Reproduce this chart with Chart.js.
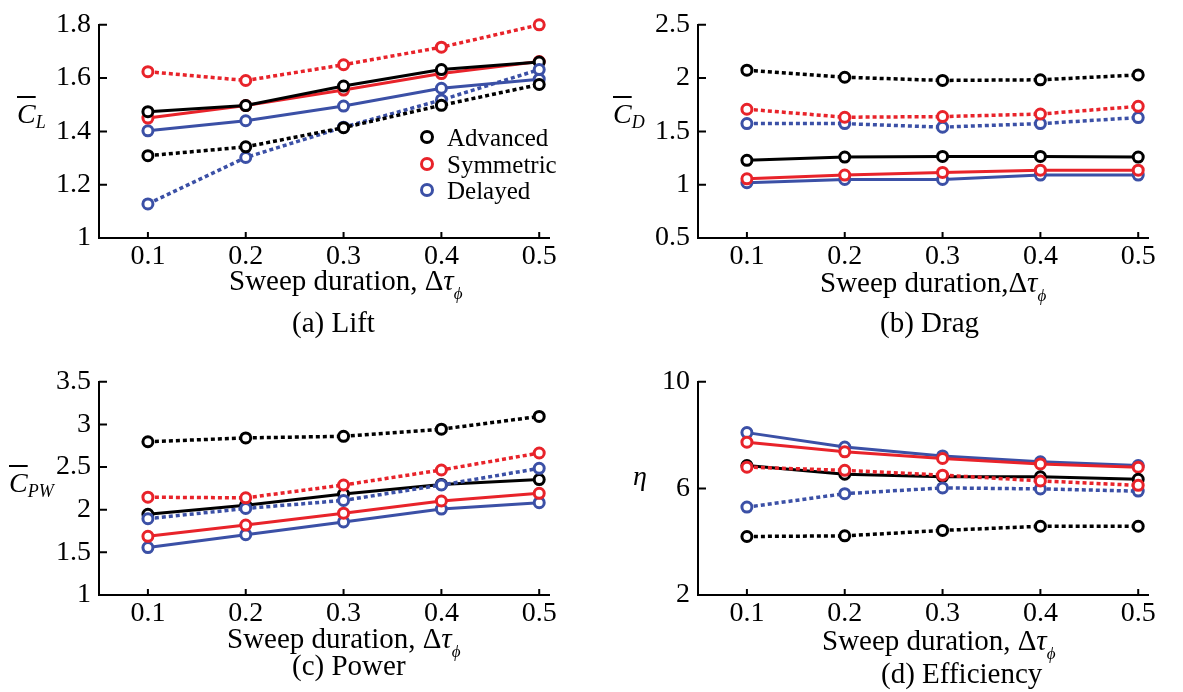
<!DOCTYPE html>
<html>
<head>
<meta charset="utf-8">
<script src="https://cdn.jsdelivr.net/npm/chart.js@4.4.1/dist/chart.umd.min.js"></script>
<style>
  body { margin: 0; background: #fff; width: 1183px; height: 692px; position: relative; overflow: hidden;
         font-family: 'Liberation Serif', 'Times New Roman', serif; color: #000; }
  canvas { position: absolute; }
  .txt { position: absolute; font-size: 29px; line-height: 29px; white-space: nowrap; }
  .ylab { position: absolute; font-size: 28px; line-height: 28px; white-space: nowrap; }
  .ylab i.bar { text-decoration: overline; text-decoration-thickness: 1.5px; }
  .ylab sub { font-size: 18px; vertical-align: -5px; }
  .txt sub { font-size: 17px; vertical-align: -9px; }
  .legend { position: absolute; left: 420px; top: 125px; font-size: 25px; line-height: 26.5px; }
  .legend div { white-space: nowrap; }
  .legend span { display: inline-block; width: 8px; height: 8px; border-radius: 50%; border-width: 3px;
                 border-style: solid; margin-right: 13px; vertical-align: 2px; }
</style>
</head>
<body>
<canvas id="lift" width="584" height="290" style="left:0;top:0"></canvas>
<canvas id="drag" width="584" height="290" style="left:599px;top:0"></canvas>
<canvas id="power" width="584" height="290" style="left:0;top:357px"></canvas>
<canvas id="eff" width="584" height="290" style="left:599px;top:357px"></canvas>

<div class="ylab" style="left:17px;top:100px"><i class="bar">C</i><sub><i>L</i></sub></div>
<div class="ylab" style="left:613px;top:100px"><i class="bar">C</i><sub><i>D</i></sub></div>
<div class="ylab" style="left:9px;top:469px"><i class="bar">C</i><sub><i>PW</i></sub></div>
<div class="ylab" style="left:633px;top:462px"><i>η</i></div>

<div class="txt" style="left:229px;top:266px">Sweep duration, Δ<i>τ</i><sub><i>ϕ</i></sub></div>
<div class="txt" style="left:820px;top:268px">Sweep duration,Δ<i>τ</i><sub><i>ϕ</i></sub></div>
<div class="txt" style="left:227px;top:624px">Sweep duration, Δ<i>τ</i><sub><i>ϕ</i></sub></div>
<div class="txt" style="left:822px;top:626px">Sweep duration, Δ<i>τ</i><sub><i>ϕ</i></sub></div>

<div class="txt" style="left:292px;top:308px">(a) Lift</div>
<div class="txt" style="left:880px;top:308px">(b) Drag</div>
<div class="txt" style="left:292px;top:651px">(c) Power</div>
<div class="txt" style="left:881px;top:659px">(d) Efficiency</div>

<div class="legend" id="legend"></div>

<script>
// sweep durations (x axis)
const sweep = [0.1, 0.2, 0.3, 0.4, 0.5];
const seriesNames = ['Advanced', 'Symmetric', 'Delayed'];
const seriesColors = ['#000000', '#e8232a', '#3b50a6'];

// (a) lift coefficient
const liftAdvanced = [1.474, 1.497, 1.570, 1.632, 1.660];
const liftSymmetric = [1.450, 1.497, 1.555, 1.617, 1.662];
const liftDelayed = [1.402, 1.440, 1.495, 1.562, 1.596];
const liftAdvancedDot = [1.309, 1.342, 1.414, 1.498, 1.576];
const liftSymmetricDot = [1.624, 1.591, 1.650, 1.716, 1.800];
const liftDelayedDot = [1.128, 1.302, 1.416, 1.518, 1.632];

// (b) drag coefficient
const dragAdvanced = [1.229, 1.259, 1.265, 1.265, 1.259];
const dragSymmetric = [1.055, 1.090, 1.115, 1.136, 1.136];
const dragDelayed = [1.019, 1.049, 1.049, 1.090, 1.090];
const dragAdvancedDot = [2.074, 2.008, 1.978, 1.984, 2.030];
const dragSymmetricDot = [1.708, 1.633, 1.639, 1.663, 1.735];
const dragDelayedDot = [1.573, 1.573, 1.540, 1.573, 1.630];

// (c) power coefficient
const powerAdvanced = [1.947, 2.053, 2.184, 2.297, 2.353];
const powerSymmetric = [1.688, 1.820, 1.959, 2.102, 2.192];
const powerDelayed = [1.556, 1.707, 1.857, 2.008, 2.083];
const powerAdvancedDot = [2.797, 2.842, 2.861, 2.944, 3.094];
const powerSymmetricDot = [2.147, 2.139, 2.290, 2.466, 2.665];
const powerDelayedDot = [1.895, 2.015, 2.109, 2.290, 2.485];

// (d) efficiency
const effAdvanced = [6.858, 6.534, 6.438, 6.438, 6.342];
const effSymmetric = [7.733, 7.373, 7.121, 6.918, 6.798];
const effDelayed = [8.093, 7.553, 7.217, 7.001, 6.858];
const effAdvancedDot = [4.195, 4.219, 4.423, 4.579, 4.579];
const effSymmetricDot = [6.798, 6.678, 6.498, 6.282, 6.114];
const effDelayedDot = [5.298, 5.802, 6.018, 5.982, 5.898];

const FONT = "'Liberation Serif', 'Times New Roman', serif";

// inward tick marks on both axes
const innerTicks = {
  id: 'innerTicks',
  beforeDatasetsDraw(chart) {
    const { ctx, chartArea, scales: { x, y } } = chart;
    ctx.save();
    ctx.strokeStyle = '#000';
    ctx.lineWidth = 2;
    ctx.beginPath();
    x.ticks.forEach(t => {
      const px = x.getPixelForValue(t.value);
      ctx.moveTo(px, chartArea.bottom);
      ctx.lineTo(px, chartArea.bottom - 6);
    });
    y.ticks.forEach(t => {
      const py = y.getPixelForValue(t.value);
      ctx.moveTo(chartArea.left, py);
      ctx.lineTo(chartArea.left + 8, py);
    });
    ctx.stroke();
    ctx.restore();
  }
};

function series(values, idx, dotted) {
  const c = seriesColors[idx];
  return {
    label: seriesNames[idx] + (dotted ? ' (dotted)' : ''),
    data: sweep.map((x, i) => ({ x, y: values[i] })),
    borderColor: c,
    borderWidth: dotted ? 3.5 : 3,
    borderDash: dotted ? [4, 3] : [],
    pointStyle: 'circle',
    pointRadius: 5,
    pointBorderWidth: 3,
    pointBorderColor: c,
    pointBackgroundColor: '#fff',
    clip: false,
  };
}

function makePanel(id, yMin, yMax, yStep, lines) {
  const canvas = document.getElementById(id);
  const H = canvas.height, W = canvas.width;
  return new Chart(canvas, {
    type: 'line',
    data: {
      datasets: [
        series(lines[3], 0, true),
        series(lines[4], 1, true),
        series(lines[5], 2, true),
        series(lines[0], 0, false),
        series(lines[1], 1, false),
        series(lines[2], 2, false),
      ],
    },
    options: {
      responsive: false,
      animation: false,
      layout: { padding: { top: 16, right: W - 549, left: 0, bottom: 0 } },
      plugins: { legend: { display: false }, tooltip: { enabled: false } },
      scales: {
        x: {
          type: 'linear',
          min: 0.05,
          max: 0.51,
          afterBuildTicks: s => { s.ticks = sweep.map(v => ({ value: v })); },
          afterFit: s => { s.height = H - 238; },
          grid: { display: false, drawTicks: false },
          border: { color: '#000', width: 2 },
          ticks: { color: '#000', font: { family: FONT, size: 28 }, padding: 2, maxRotation: 0,
                   callback: v => String(v) },
        },
        y: {
          min: yMin,
          max: yMax,
          afterFit: s => { s.width = 99; },
          grid: { display: false, drawTicks: false },
          border: { color: '#000', width: 2 },
          ticks: { stepSize: yStep, color: '#000', font: { family: FONT, size: 28 }, padding: 8,
                   callback: v => String(Math.round(v * 100) / 100) },
        },
      },
    },
    plugins: [innerTicks],
  });
}

makePanel('lift', 1, 1.8, 0.2,
  [liftAdvanced, liftSymmetric, liftDelayed, liftAdvancedDot, liftSymmetricDot, liftDelayedDot]);
makePanel('drag', 0.5, 2.5, 0.5,
  [dragAdvanced, dragSymmetric, dragDelayed, dragAdvancedDot, dragSymmetricDot, dragDelayedDot]);
makePanel('power', 1, 3.5, 0.5,
  [powerAdvanced, powerSymmetric, powerDelayed, powerAdvancedDot, powerSymmetricDot, powerDelayedDot]);
makePanel('eff', 2, 10, 4,
  [effAdvanced, effSymmetric, effDelayed, effAdvancedDot, effSymmetricDot, effDelayedDot]);

// legend in panel (a)
document.getElementById('legend').innerHTML = seriesNames
  .map((n, i) => `<div><span style="border-color:${seriesColors[i]}"></span>${n}</div>`)
  .join('');
</script>
</body>
</html>
